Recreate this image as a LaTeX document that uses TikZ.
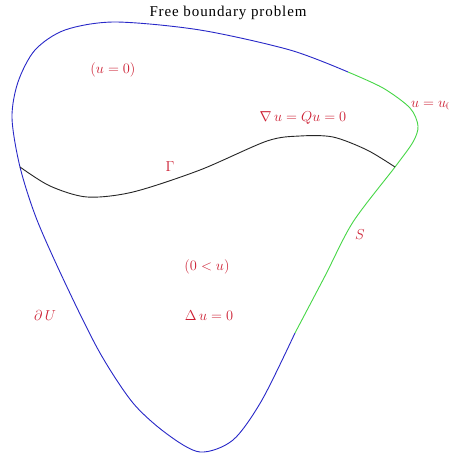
\documentclass[tikz,border=0pt]{standalone}
\usepackage{fontspec}
\setmainfont{Liberation Serif}
\usepackage{tikz}
\usetikzlibrary{positioning}
\definecolor{BoundBlue}{RGB}{40, 40, 200}
\definecolor{FixedGreen}{RGB}{70, 215, 70}
\definecolor{LabelRed}{RGB}{205, 30, 50}

\tikzset{
  lbl/.style={text=LabelRed, inner sep=0pt, font=\fontsize{14.2}{16}\selectfont},
  edge/.style={line width=0.9pt, smooth}
}

\begin{document}
\begin{tikzpicture}[x=1pt, y=-1pt]
    \clip (0,0) rectangle (449,453);
    \fill[white] (0,0) rectangle (449,453);

    % Title
    \node[inner sep=0pt, font=\fontsize{15}{17}\selectfont\addfontfeature{LetterSpace=6}] (title) at (228,13) {Free boundary problem};

    % Fixed boundary dU (blue part)
    \draw[edge, BoundBlue] plot coordinates {
      (348,72) (290,50) (200,30) (115,22) (65,30) (35,50) (18,82) (12,118)
      (20,167) (37,220) (67,287) (100,353) (133,403) (167,434) (200,452)
      (233,440) (262,400) (295,333)
    };

    % Boundary part S with u = u_0 (green)
    \draw[edge, FixedGreen] plot coordinates {
      (295,333) (325,276) (353,222) (395,167) (413,142) (418,126) (410,108)
      (383,88) (348,72)
    };

    % Free boundary Gamma
    \draw[edge, black!85] plot coordinates {
      (20,167) (50,186) (87,197) (133,192) (200,170) (267,141) (300,136)
      (333,137) (367,150) (395,167)
    };

    % Labels
    \node[lbl] (zero) at (113,70) {$(u = 0)$};
    \node[lbl, anchor=west] (uzero) at (411,105) {$u = u_0$};
    \node[lbl] (grad) at (303,118) {$\nabla\, u = Qu = 0$};
    \node[lbl] (gamma) at (170,167) {$\Gamma$};
    \node[lbl] (S) at (360,235) {$S$};
    \node[lbl] (pos) at (207,267) {$(0 < u)$};
    \node[lbl] (lap) at (209,316) {$\Delta\, u = 0$};
    \node[lbl] (dU) at (45,315) {$\partial\, U$};
\end{tikzpicture}
\end{document}
